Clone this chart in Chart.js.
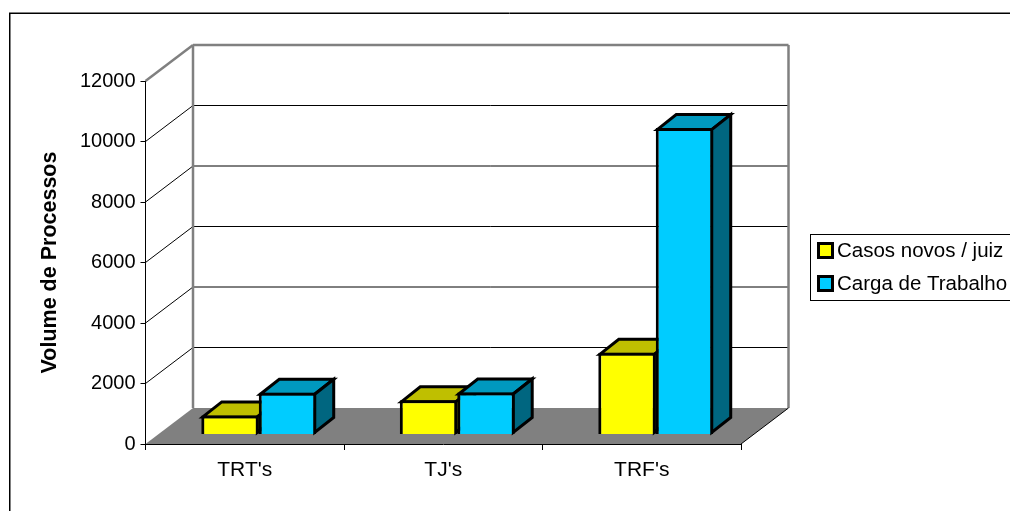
<!DOCTYPE html>
<html>
<head>
<meta charset="utf-8">
<style>
  html, body { margin: 0; padding: 0; background: #fff; }
  canvas { display: block; }
</style>
<script src="https://cdn.jsdelivr.net/npm/chart.js@4/dist/chart.umd.min.js"></script>
</head>
<body>
<canvas id="grafico" width="1010" height="511"></canvas>
<script>
var categorias = ["TRT's", "TJ's", "TRF's"];
var casosNovos = [630, 1130, 2700];
var cargaTrabalho = [1380, 1390, 10130];
var nomesSeries = ['Casos novos / juiz', 'Carga de Trabalho'];

var fonte = '"Liberation Sans", Arial, sans-serif';

// perspective of the fake 3D box
var parede = { dx: 47.5, dy: 36 };
var barra = { dx: 19, dy: 15 };
var recuo = { dx: 14, dy: -9.5 };

function poly(ctx, pts, fill, stroke, lw) {
  ctx.beginPath();
  pts.forEach(function (p, i) { i ? ctx.lineTo(p[0], p[1]) : ctx.moveTo(p[0], p[1]); });
  ctx.closePath();
  if (fill) { ctx.fillStyle = fill; ctx.fill(); }
  if (stroke) { ctx.strokeStyle = stroke; ctx.lineWidth = lw; ctx.stroke(); }
}

function line(ctx, x1, y1, x2, y2, cor, lw) {
  ctx.beginPath();
  ctx.moveTo(x1, y1);
  ctx.lineTo(x2, y2);
  ctx.strokeStyle = cor;
  ctx.lineWidth = lw;
  ctx.stroke();
}

var caixa3d = {
  id: 'caixa3d',
  // page frame, walls and floor, behind the bars
  beforeDatasetsDraw: function (chart) {
    var ctx = chart.ctx, a = chart.chartArea, y = chart.scales.y;
    var L = a.left, R = a.right, dx = parede.dx, dy = parede.dy;
    var y0 = y.getPixelForValue(0);
    ctx.save();
    // only the top and left of the frame show in the picture
    line(ctx, 9, 12.5, 1010, 12.5, '#808080', 1);
    line(ctx, 9, 13.5, 1010, 13.5, '#000', 1);
    line(ctx, 9.5, 13, 9.5, 511, '#000', 1);
    line(ctx, 10.5, 14, 10.5, 511, '#808080', 1);
    poly(ctx, [[L, y0], [L + dx, y0 - dy], [R + dx, y0 - dy], [R, y0]], '#808080');
    y.ticks.forEach(function (t) {
      var py = y.getPixelForValue(t.value);
      if (t.value === 0 || t.value === y.max) return;
      line(ctx, L, py, L + dx, py - dy, '#000', 1);
      line(ctx, L + dx, py - dy, R + dx, py - dy, '#000', 1);
    });
    var yt = y.getPixelForValue(y.max);
    line(ctx, L, yt, L + dx, yt - dy, '#808080', 2.5);
    line(ctx, L + dx, yt - dy, R + dx, yt - dy, '#808080', 2.5);
    line(ctx, L + dx, yt - dy, L + dx, y0 - dy, '#808080', 2.5);
    line(ctx, R + dx, yt - dy, R + dx, y0 - dy, '#808080', 2.5);
    line(ctx, R, y0, R + dx, y0 - dy, '#000', 1);
    ctx.restore();
  },
  // the library paints the last series first; the left one has to go underneath,
  // so its own pass is skipped and the series are painted below, first to last
  beforeDatasetDraw: function () {
    return false;
  },
  afterDatasetsDraw: function (chart) {
    var ctx = chart.ctx;
    chart.data.datasets.forEach(function (ds, i) {
      var meta = chart.getDatasetMeta(i);
      ctx.save();
      ctx.lineJoin = 'miter';
      meta.data.forEach(function (b) {
        var xl = b.x - b.width / 2 + recuo.dx + 1.5, xr = b.x + b.width / 2 + recuo.dx - 1.5;
        var yt = b.y + recuo.dy + 1.5, yb = b.base + recuo.dy - 1.5;
        poly(ctx, [[xl, yt], [xl + barra.dx, yt - barra.dy], [xr + barra.dx, yt - barra.dy], [xr, yt]], ds.corTopo, '#000', 3);
        poly(ctx, [[xr, yt], [xr + barra.dx, yt - barra.dy], [xr + barra.dx, yb - barra.dy], [xr, yb]], ds.corLado, '#000', 3);
      });
      ctx.translate(recuo.dx, recuo.dy);
      meta.controller.draw();
      ctx.restore();
    });
  },
  afterDraw: function (chart) {
    var ctx = chart.ctx;
    ctx.save();
    ctx.fillStyle = '#fff';
    ctx.strokeStyle = '#000';
    ctx.lineWidth = 1;
    ctx.fillRect(810.5, 234.5, 210, 66);
    ctx.strokeRect(810.5, 234.5, 210, 66);
    ctx.font = '20.5px ' + fonte;
    ctx.textBaseline = 'alphabetic';
    chart.data.datasets.forEach(function (ds, i) {
      var ty = 243.5 + i * 33;
      ctx.fillStyle = ds.backgroundColor;
      ctx.fillRect(818.5, ty, 14, 14);
      ctx.lineWidth = 3;
      ctx.strokeRect(818.5, ty, 14, 14);
      ctx.fillStyle = '#000';
      ctx.fillText(ds.label, 837, ty + 13.5);
    });
    ctx.restore();
  }
};

new Chart(document.getElementById('grafico'), {
  type: 'bar',
  data: {
    labels: categorias,
    datasets: [{
      label: nomesSeries[0],
      data: casosNovos,
      backgroundColor: '#FFFF00',
      corTopo: '#BFBF00',
      corLado: '#808000',
      borderColor: '#000',
      borderWidth: 3,
      clip: false
    }, {
      label: nomesSeries[1],
      data: cargaTrabalho,
      backgroundColor: '#00CCFF',
      corTopo: '#0099BF',
      corLado: '#006680',
      borderColor: '#000',
      borderWidth: 3,
      clip: false
    }]
  },
  options: {
    responsive: false,
    animation: false,
    categoryPercentage: 0.579,
    barPercentage: 1,
    layout: { padding: { left: 37, top: 81, right: 269, bottom: 0 } },
    plugins: { legend: { display: false }, tooltip: { enabled: false } },
    scales: {
      x: {
        afterFit: function (s) { s.height = 67; },
        border: { color: '#000', width: 1 },
        grid: { drawOnChartArea: false, color: '#000', tickLength: 6 },
        ticks: { color: '#000', font: { family: fonte, size: 21 }, padding: 8, maxRotation: 0 }
      },
      y: {
        min: 0,
        max: 12000,
        afterFit: function (s) { s.width = 108.5; },
        border: { color: '#000', width: 1 },
        grid: { drawOnChartArea: false, color: '#000', tickLength: 5 },
        ticks: {
          stepSize: 2000,
          color: '#000',
          font: { family: fonte, size: 20 },
          padding: 5,
          callback: function (v) { return String(v); }
        },
        title: {
          display: true,
          text: 'Volume de Processos',
          color: '#000',
          padding: 0,
          font: { family: fonte, size: 21.5, weight: 'bold' }
        }
      }
    }
  },
  plugins: [caixa3d]
});
</script>
</body>
</html>
